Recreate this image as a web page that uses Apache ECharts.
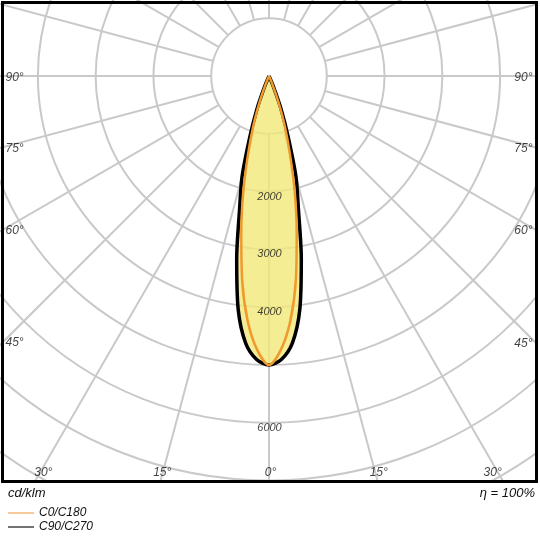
<!DOCTYPE html>
<html>
<head>
<meta charset="utf-8">
<style>
  html, body { margin: 0; padding: 0; background: #fff; }
  #chart { width: 540px; height: 540px; }
</style>
<script src="https://cdn.jsdelivr.net/npm/echarts@6/dist/echarts.min.js"></script>
</head>
<body>
<div id="chart"></div>
<script>
  // gamma angles (deg from nadir) and intensities in cd/klm
  var gammas = [0, 2.5, 5, 7.5, 10, 12.5, 15, 17.5, 20, 22.5, 25];
  var c0c180 = [5000, 4740, 4250, 3560, 2760, 2060, 1400, 900, 450, 120, 0];
  var c90c270 = [5000, 4910, 4640, 4080, 3220, 2350, 1800, 1100, 620, 200, 0];

  // grid
  var spokeAngles = [];
  for (var a = -165; a <= 180; a += 15) spokeAngles.push(a);
  var angleTicks = [-90, -75, -60, -45, -30, -15, 0, 15, 30, 45, 60, 75, 90];
  var radiusTickLabels = [2000, 3000, 4000, 6000];

  var FONT = "'Liberation Sans', Arial, sans-serif";
  var CX = 269, CY = 76;
  var R_MAX = 9000, R_PX = 520;
  var pxPer = R_PX / R_MAX;
  var BOX = { left: 4, right: 535, bottom: 480 };

  // mirror a half curve into a full symmetric lobe [r, angle]
  function lobe(values) {
    var pts = [];
    for (var i = gammas.length - 1; i > 0; i--) pts.push([values[i], -gammas[i]]);
    for (var j = 0; j < gammas.length; j++) pts.push([values[j], gammas[j]]);
    return pts;
  }

  // where a ray at angle g leaves the frame
  function edgeHit(g) {
    var rad = g * Math.PI / 180;
    var dx = -Math.sin(rad), dy = Math.cos(rad);
    var best = Infinity, side = null, t;
    if (dx < -1e-9) { t = (CX - BOX.left) / -dx; if (t < best) { best = t; side = "left"; } }
    if (dx > 1e-9) { t = (BOX.right - CX) / dx; if (t < best) { best = t; side = "right"; } }
    if (dy > 1e-9) { t = (BOX.bottom - CY) / dy; if (t < best) { best = t; side = "bottom"; } }
    return { r: best / pxPer, side: side };
  }

  var angleLabelData = angleTicks.map(function (g) {
    var hit = edgeHit(g);
    var lab = { show: true };
    if (hit.side === "left") {
      lab.align = "left"; lab.verticalAlign = "middle"; lab.position = [2, 2];
    } else if (hit.side === "right") {
      lab.align = "right"; lab.verticalAlign = "middle"; lab.position = [-2, 2];
    } else if (Math.abs(g) >= 30) {
      lab.align = g > 0 ? "left" : "right"; lab.verticalAlign = "bottom"; lab.position = [g > 0 ? -1 : 0, -1];
    } else {
      lab.align = "center"; lab.verticalAlign = "bottom"; lab.position = [2, -1];
    }
    return { value: [hit.r, g], name: Math.abs(g) + "°", label: lab };
  });

  var series = spokeAngles.map(function (ang) {
    return {
      type: "line",
      coordinateSystem: "polar",
      data: [[1000, ang], [R_MAX, ang]],
      symbol: "none",
      silent: true,
      z: 1,
      lineStyle: { color: "#c9c9c9", width: 2 }
    };
  });

  series.push({
    name: "C90/C270",
    type: "line",
    coordinateSystem: "polar",
    data: lobe(c90c270),
    symbol: "none",
    smooth: 0.3,
    z: 3,
    lineStyle: { color: "#000", width: 3.5 },
    itemStyle: { color: "#000" },
    areaStyle: { color: "#f2e878", opacity: 0.8 }
  });
  series.push({
    name: "C0/C180",
    type: "line",
    coordinateSystem: "polar",
    data: lobe(c0c180),
    symbol: "none",
    smooth: 0.3,
    z: 4,
    lineStyle: { color: "#f09a2e", width: 2.5 },
    itemStyle: { color: "#f09a2e" }
  });

  series.push({
    type: "scatter",
    coordinateSystem: "polar",
    data: radiusTickLabels.map(function (v) { return { value: [v, 0], name: String(v) }; }),
    symbolSize: 1,
    silent: true,
    z: 5,
    itemStyle: { color: "rgba(0,0,0,0)" },
    label: {
      show: true,
      formatter: "{b}",
      position: [1, 0],
      align: "center",
      verticalAlign: "top",
      fontFamily: FONT,
      fontStyle: "italic",
      fontSize: 11,
      color: "#111"
    }
  });

  series.push({
    type: "scatter",
    coordinateSystem: "polar",
    data: angleLabelData,
    symbolSize: 1,
    silent: true,
    z: 5,
    itemStyle: { color: "rgba(0,0,0,0)" },
    label: {
      show: true,
      formatter: "{b}",
      fontFamily: FONT,
      fontStyle: "italic",
      fontSize: 12,
      color: "#111"
    }
  });

  var chart = echarts.init(document.getElementById("chart"));
  chart.setOption({
    animation: false,
    polar: { center: [CX, CY], radius: R_PX },
    angleAxis: {
      type: "value",
      min: -180,
      max: 180,
      startAngle: 90,
      clockwise: true,
      axisLine: { show: false },
      axisTick: { show: false },
      axisLabel: { show: false },
      splitLine: { show: false }
    },
    radiusAxis: {
      type: "value",
      min: 0,
      max: R_MAX,
      interval: 1000,
      axisLine: { show: false },
      axisTick: { show: false },
      axisLabel: { show: false },
      splitLine: { show: true, lineStyle: { color: "#c9c9c9", width: 2 } }
    },
    legend: {
      orient: "vertical",
      left: 8,
      top: 507,
      padding: 0,
      z: 200,
      icon: "rect",
      itemWidth: 26,
      itemHeight: 1.5,
      itemGap: 2,
      selectedMode: false,
      data: [
        { name: "C0/C180", itemStyle: { color: "#f3b77a" } },
        { name: "C90/C270", itemStyle: { color: "#444" } }
      ],
      textStyle: { fontFamily: FONT, fontStyle: "italic", fontSize: 12, color: "#111" }
    },
    graphic: [
      { type: "rect", z: 100, shape: { x: 0, y: 482, width: 540, height: 58 }, style: { fill: "#fff" } },
      { type: "rect", z: 100, shape: { x: 537, y: 0, width: 3, height: 540 }, style: { fill: "#fff" } },
      { type: "rect", z: 101, shape: { x: 2.5, y: 2.5, width: 534, height: 479 },
        style: { fill: null, stroke: "#000", lineWidth: 3 } },
      { type: "text", z: 102, left: 8, top: 487,
        style: { text: "cd/klm", font: "italic 13px " + FONT, fill: "#111" } },
      { type: "text", z: 102, right: 5, top: 487,
        style: { text: "η = 100%", font: "italic 13px " + FONT, fill: "#111" } }
    ],
    series: series
  });
</script>
</body>
</html>
